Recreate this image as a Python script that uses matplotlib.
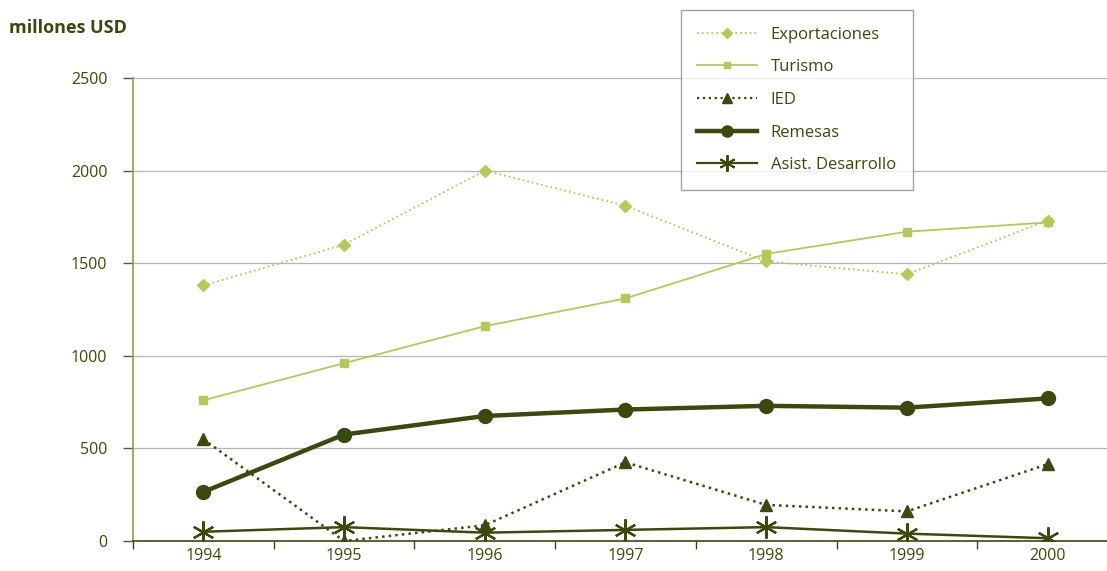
import numpy as np
import matplotlib.pyplot as plt
from matplotlib.lines import Line2D

years = ["1994", "1995", "1996", "1997", "1998", "1999", "2000"]
exportaciones = [1380, 1600, 2000, 1810, 1510, 1440, 1730]
turismo = [760, 960, 1160, 1310, 1550, 1670, 1720]
ied = [550, 0, 85, 425, 195, 160, 415]
remesas = [265, 575, 675, 710, 730, 720, 770]
asistencia = [50, 75, 45, 60, 75, 40, 15]
y_ticks = [0, 500, 1000, 1500, 2000, 2500]

DARK = "#3b4a0c"
LIGHT = "#b3c95a"
TEXT = "#3a4a08"
FONT = ["Open Sans", "DejaVu Sans"]

plt.rcParams["font.family"] = FONT

fig = plt.figure(figsize=(11.07, 5.71), dpi=100)
ax = fig.add_axes([0.1201, 0.0525, 0.8898, 0.8109])

x = np.arange(len(years))

ax.plot(x, exportaciones, color=LIGHT, ls=":", lw=1.3, marker="D", ms=6,
        mfc=LIGHT, mec=LIGHT, label="Exportaciones")
ax.plot(x, turismo, color=LIGHT, ls="-", lw=1.3, marker="s", ms=6,
        mfc=LIGHT, mec=LIGHT, label="Turismo")
ax.plot(x, ied, color=DARK, ls=":", lw=1.8, marker="^", ms=9,
        mfc=DARK, mec=DARK, label="IED")
ax.plot(x, remesas, color=DARK, ls="-", lw=3.2, marker="o", ms=10,
        mfc=DARK, mec=DARK, label="Remesas")
ax.plot(x, asistencia, color=DARK, ls="-", lw=1.8, marker=(6, 2, 0), ms=16,
        mec=DARK, mew=1.6, label="Asist. Desarrollo")

ax.set_xlim(-0.5, len(years) - 0.5)
ax.set_ylim(0, 2500)
ax.set_yticks(y_ticks)
ax.set_yticklabels([str(v) for v in y_ticks])
ax.set_xticks(x)
ax.set_xticklabels(years)
ax.set_xticks(np.arange(len(years) + 1) - 0.5, minor=True)

ax.grid(axis="y", color="#b4b4b4", lw=0.9)
ax.set_axisbelow(True)

for side in ("top", "right"):
    ax.spines[side].set_visible(False)
ax.spines["left"].set_color("#8fa33a")
ax.spines["left"].set_linewidth(1.2)
ax.spines["bottom"].set_color(DARK)
ax.spines["bottom"].set_linewidth(1.2)

ax.tick_params(axis="y", length=7, width=1, color="#555555", labelsize=11.5,
               labelcolor=TEXT, pad=11.5)
ax.tick_params(axis="x", which="major", length=0, labelsize=11.5,
               labelcolor=TEXT, pad=5)
ax.tick_params(axis="x", which="minor", length=6, width=1, color=DARK)

fig.text(0.008, 0.951, "millones USD", fontsize=13, fontweight="bold",
         color=TEXT, va="center", ha="left")

# legend handles drawn a bit smaller than the plot markers
handles = [
    Line2D([], [], color=LIGHT, ls=":", lw=1.3, marker="D", ms=5, mfc=LIGHT, mec=LIGHT),
    Line2D([], [], color=LIGHT, ls="-", lw=1.3, marker="s", ms=5, mfc=LIGHT, mec=LIGHT),
    Line2D([], [], color=DARK, ls=":", lw=1.6, marker="^", ms=7, mfc=DARK, mec=DARK),
    Line2D([], [], color=DARK, ls="-", lw=3.2, marker="o", ms=8, mfc=DARK, mec=DARK),
    Line2D([], [], color=DARK, ls="-", lw=1.6, marker=(6, 2, 0), ms=12, mec=DARK, mew=1.4),
]
labels = ["Exportaciones", "Turismo", "IED", "Remesas", "Asist. Desarrollo"]
leg = fig.legend(handles, labels, loc="upper left",
                 bbox_to_anchor=(0.615, 0.9825), frameon=True, fancybox=False,
                 fontsize=12, labelcolor=TEXT, handlelength=3.6,
                 handletextpad=0.8, labelspacing=1.0, borderpad=1.0,
                 borderaxespad=0)
leg.get_frame().set_edgecolor("#8c8c8c")
leg.get_frame().set_linewidth(1.0)

fig.savefig("out.png", dpi=100)
